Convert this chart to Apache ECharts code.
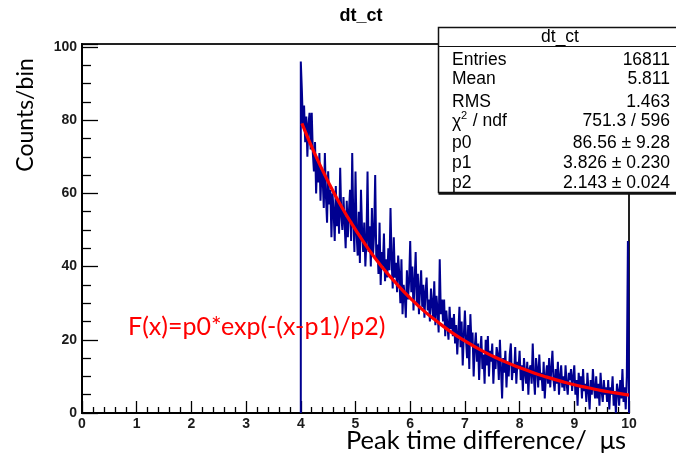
<!DOCTYPE html>
<html>
<head>
<meta charset="utf-8">
<script src="https://cdn.jsdelivr.net/npm/echarts@6/dist/echarts.min.js"></script>
<style>
html,body{margin:0;padding:0;background:#fff;}
#c{width:676px;height:463px;}
</style>
</head>
<body>
<div id="c"></div>
<script>
// Histogram: bins of width 0.02 from 4.00 to 10.00
const binLow = 4.0;
const binWidth = 0.02;
const counts = [
  96, 88, 78, 84, 74, 81, 70, 79, 82, 72,
  82, 71, 66, 74, 60, 69, 63, 71, 58, 67,
  64, 56, 71, 59, 52, 66, 57, 61, 48, 60,
  55, 47, 62, 51, 58, 49, 67, 54, 50, 59,
  52, 45, 58, 48, 55, 61, 47, 71, 53, 44,
  66, 49, 43, 55, 41, 61, 50, 44, 52, 40,
  47, 66, 44, 51, 40, 56, 43, 49, 65, 42,
  46, 38, 52, 35, 44, 40, 49, 36, 42, 37,
  45, 39, 56, 42, 34, 48, 37, 41, 33, 43,
  38, 30, 42, 27, 35, 32, 26, 39, 31, 36,
  47, 33, 40, 28, 36, 44, 30, 38, 27, 34,
  39, 29, 35, 26, 33, 37, 28, 31, 25, 34,
  30, 26, 36, 24, 32, 28, 22, 42, 27, 31,
  25, 31, 21, 28, 24, 20, 29, 23, 26, 21,
  27, 19, 24, 16, 22, 29, 18, 25, 13, 21,
  28, 20, 15, 24, 12, 27, 19, 22, 10, 18,
  22, 14, 19, 9, 17, 21, 12, 16, 8, 20,
  13, 21, 10, 17, 14, 19, 8, 15, 12, 18,
  16, 9, 20, 12, 4, 15, 11, 17, 7, 14,
  10, 16, 19, 9, 13, 11, 18, 8, 14, 12,
  17, 9, 13, 6, 15, 11, 8, 14, 5, 12,
  13, 8, 19, 10, 5, 15, 12, 7, 16, 9,
  11, 6, 14, 4, 10, 13, 8, 15, 7, 12,
  17, 9, 6, 12, 8, 14, 5, 10, 13, 7,
  10, 6, 13, 8, 5, 11, 9, 12, 6, 10,
  13, 5, 9, 2, 11, 7, 10, 4, 12, 6,
  8, 3, 11, 6, 1, 9, 5, 12, 7, 4,
  10, 4, 8, 2, 11, 6, 3, 9, 5, 7,
  3, 9, 1, 7, 5, 10, 2, 6, 0, 8,
  6, 2, 9, 4, 12, 3, 7, 1, 10, 47
];

// Fit curve points
const fitX = [4.02, 4.25, 4.5, 4.75, 5.0, 5.25, 5.5, 5.75, 6.0, 6.25, 6.5, 6.75, 7.0, 7.25, 7.5, 7.75, 8.0, 8.25, 8.5, 8.75, 9.0, 9.25, 9.5, 9.75, 10.0];
const fitY = [79.1, 71.0, 63.2, 56.2, 50.1, 44.5, 39.6, 35.3, 31.4, 27.9, 24.9, 22.1, 19.7, 17.5, 15.6, 13.9, 12.4, 11.0, 9.8, 8.7, 7.7, 6.9, 6.1, 5.5, 4.9];

// Axis tick labels
const xTicks = [0,1,2,3,4,5,6,7,8,9,10];
const yTicks = [0,20,40,60,80,100];

// Stats box texts
const statTitle = 'dt_ct';
const statNames = ['Entries', 'Mean', 'RMS', null, 'p0', 'p1', 'p2'];
const statValues = ['16811', '5.811', '1.463', '751.3 / 596', '86.56 \u00b1 9.28', '3.826 \u00b1 0.230', '2.143 \u00b1 0.024'];

const histData = [[binLow, 0]];
counts.forEach((v, i) => histData.push([+(binLow + i * binWidth).toFixed(4), v]));
const binHigh = +(binLow + counts.length * binWidth).toFixed(4);
histData.push([binHigh, counts[counts.length - 1]]);
histData.push([binHigh, 0]);

const fitData = fitX.map((x, i) => [x, fitY[i]]);

const chart = echarts.init(document.getElementById('c'), null, {renderer: 'canvas'});

const statFont = '"Liberation Sans", Arial, sans-serif';
const rowY = [60, 79.5, 102.5, 121.5, 143, 163.5, 183];
const graphics = [];
// stats box
graphics.push({type: 'rect', z: 100, shape: {x: 438.5, y: 27.5, width: 250, height: 165}, style: {fill: '#fff', stroke: '#111', lineWidth: 1.5}});
graphics.push({type: 'line', z: 101, shape: {x1: 438.5, y1: 193.5, x2: 690, y2: 193.5}, style: {stroke: '#111', lineWidth: 2.5}});
graphics.push({type: 'line', z: 101, shape: {x1: 438.5, y1: 46.5, x2: 690, y2: 46.5}, style: {stroke: '#111', lineWidth: 1.2}});
graphics.push({type: 'text', z: 102, x: 560, y: 37, style: {text: statTitle, font: '17.5px ' + statFont, fill: '#000', align: 'center', verticalAlign: 'middle'}});
statNames.forEach((n, i) => {
  if (n !== null) {
    graphics.push({type: 'text', z: 102, x: 452, y: rowY[i], style: {text: n, font: '17.5px ' + statFont, fill: '#000', align: 'left', verticalAlign: 'middle'}});
  } else {
    graphics.push({type: 'text', z: 102, x: 452, y: rowY[i] + 1, style: {text: '\u03c7', font: '17.5px ' + statFont, fill: '#000', align: 'left', verticalAlign: 'middle'}});
    graphics.push({type: 'text', z: 102, x: 461, y: rowY[i] - 6, style: {text: '2', font: '11px ' + statFont, fill: '#000', align: 'left', verticalAlign: 'middle'}});
    graphics.push({type: 'text', z: 102, x: 468, y: rowY[i], style: {text: ' / ndf', font: '17.5px ' + statFont, fill: '#000', align: 'left', verticalAlign: 'middle'}});
  }
  graphics.push({type: 'text', z: 102, x: 670, y: rowY[i], style: {text: statValues[i], font: '17.5px ' + statFont, fill: '#000', align: 'right', verticalAlign: 'middle'}});
});
// axis titles and formula
graphics.push({type: 'text', z: 50, x: 26, y: 115, rotation: Math.PI / 2, style: {text: 'Counts/bin', font: '23px Lato, "Open Sans", sans-serif', fill: '#000', align: 'center', verticalAlign: 'middle'}});
graphics.push({type: 'text', z: 50, x: 626, y: 441, style: {text: 'Peak time difference/  \u03bcs', font: '25.5px Lato, "Open Sans", sans-serif', fill: '#000', align: 'right', verticalAlign: 'middle'}});
graphics.push({type: 'text', z: 50, x: 128, y: 327, style: {text: 'F(x)=p0*exp(-(x-p1)/p2)', font: '25px Lato, "Open Sans", sans-serif', fill: '#ff0000', align: 'left', verticalAlign: 'middle'}});

const labelStyle = {fontFamily: '"Liberation Sans", Arial, sans-serif', fontWeight: 'bold', fontSize: 14, color: '#1a1a1a'};

chart.setOption({
  animation: false,
  title: {text: 'dt_ct', left: 356, top: 2, textAlign: 'center', textStyle: {fontFamily: '"Liberation Sans", Arial, sans-serif', fontWeight: 'bold', fontSize: 18, color: '#000'}},
  grid: {left: 82, right: 47, top: 44, bottom: 50, show: true, borderColor: '#222', borderWidth: 2, backgroundColor: 'transparent'},
  xAxis: {
    type: 'value', min: 0, max: 10, interval: 1,
    axisLine: {show: true, lineStyle: {color: '#000', width: 2}},
    axisTick: {show: true, inside: true, length: 12, lineStyle: {color: '#000', width: 1.3}},
    minorTick: {show: true, splitNumber: 5, length: 6, lineStyle: {color: '#000', width: 1.3}},
    splitLine: {show: false},
    axisLabel: Object.assign({margin: 4, formatter: v => (xTicks.indexOf(v) >= 0 ? String(v) : '')}, labelStyle)
  },
  yAxis: {
    type: 'value', min: 0, max: 100.8, interval: 20,
    axisLine: {show: true, lineStyle: {color: '#000', width: 2}},
    axisTick: {show: true, inside: true, length: 16, lineStyle: {color: '#000', width: 1.3}},
    minorTick: {show: true, splitNumber: 4, length: 9, lineStyle: {color: '#000', width: 1.3}},
    splitLine: {show: false},
    axisLabel: Object.assign({margin: 5, formatter: v => (yTicks.indexOf(v) >= 0 ? String(v) : '')}, labelStyle)
  },
  series: [
    {
      type: 'line', step: 'end', symbol: 'none', data: histData, z: 3,
      lineStyle: {color: '#000090', width: 2}
    },
    {
      type: 'line', smooth: true, symbol: 'none', data: fitData, z: 4,
      lineStyle: {color: '#ff0000', width: 3.2}
    }
  ],
  graphic: graphics
});
</script>
</body>
</html>
